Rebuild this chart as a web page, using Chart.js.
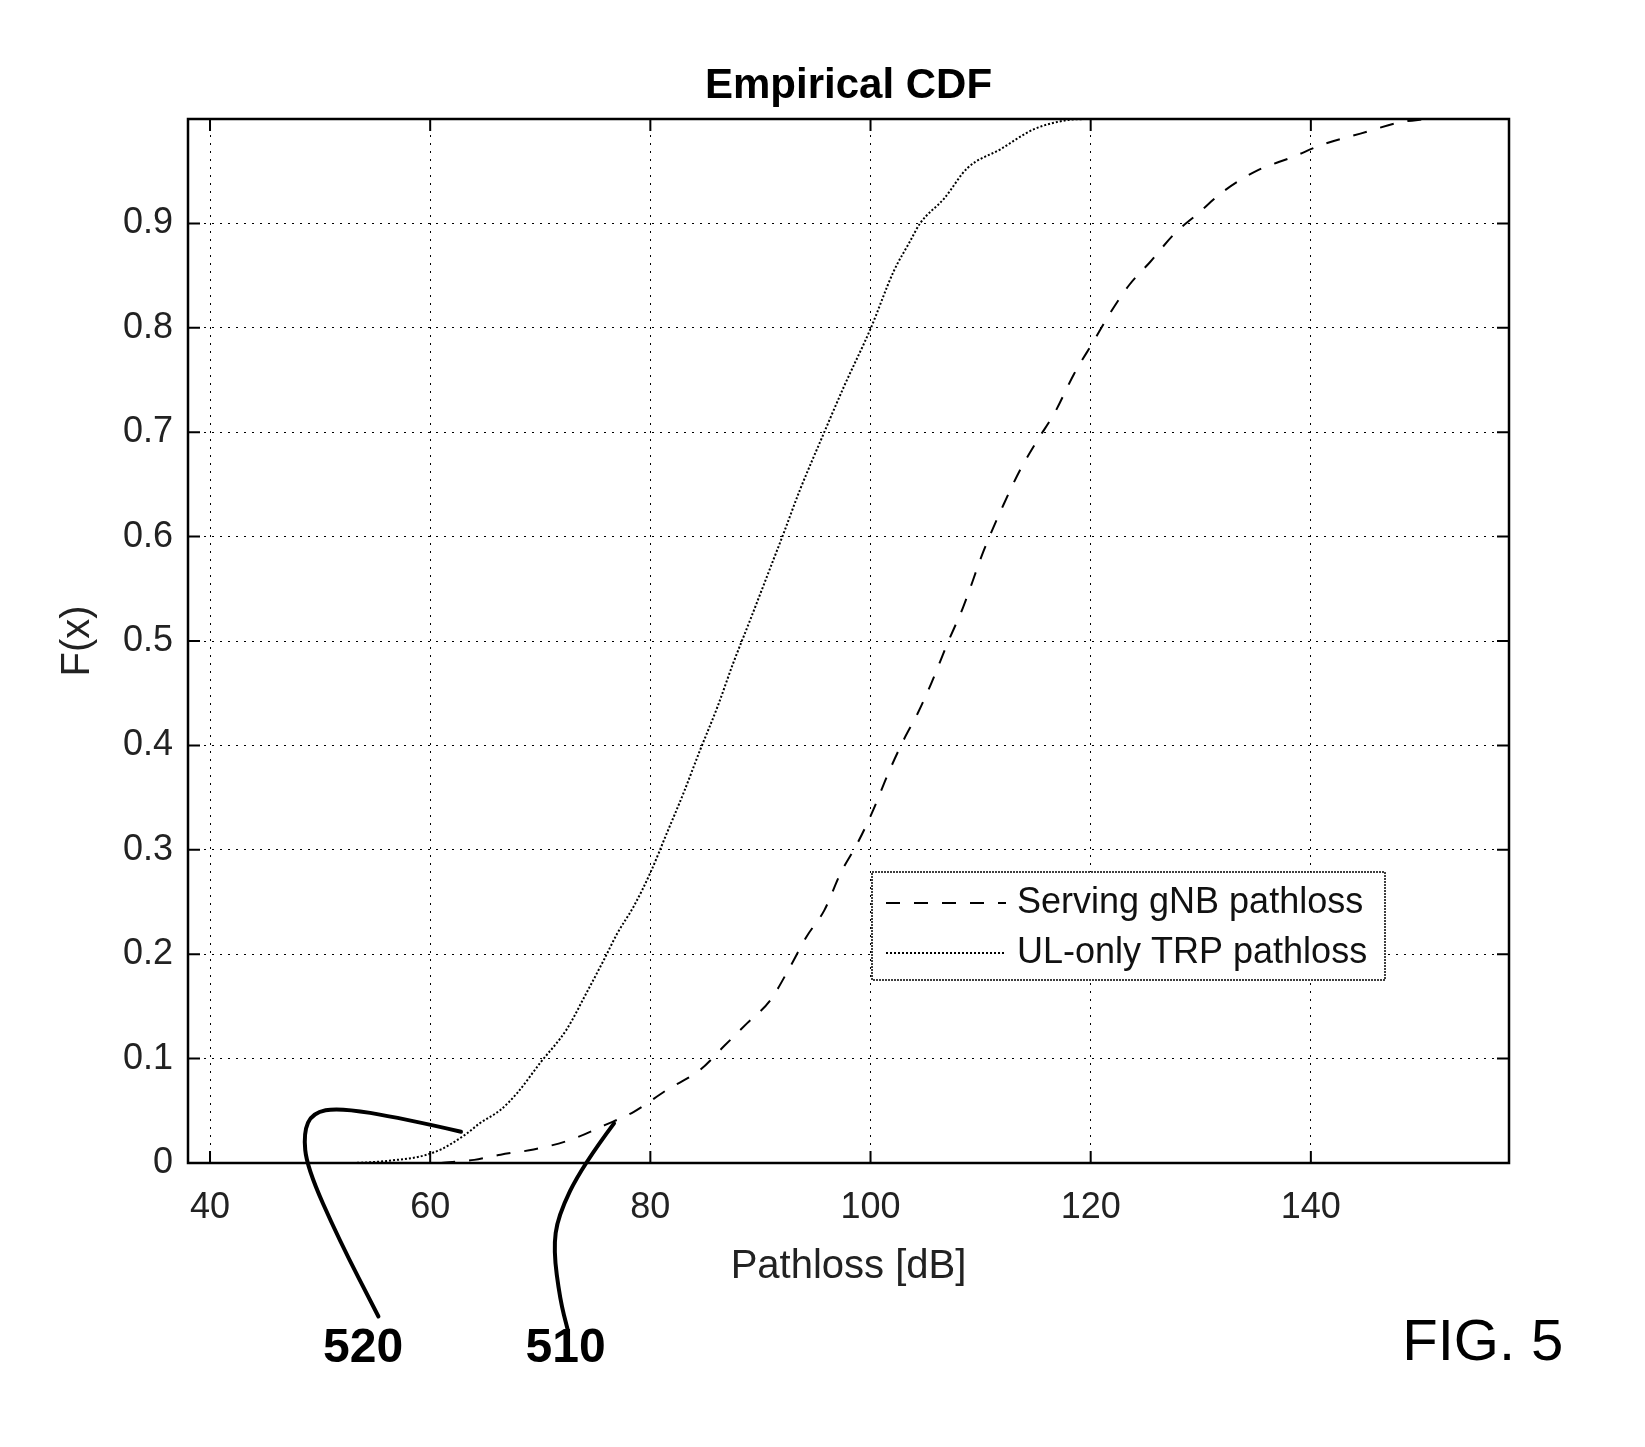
<!DOCTYPE html>
<html>
<head>
<meta charset="utf-8">
<script src="https://cdn.jsdelivr.net/npm/chart.js@4.4.1/dist/chart.umd.min.js"></script>
<style>
  body { margin: 0; background: #fff; }
  canvas { display: block; }
</style>
</head>
<body>
<canvas id="cdfChart" width="1645" height="1447"></canvas>
<script>
// UL-only TRP pathloss (curve 520)
let ulX = [53, 55, 57, 59, 60, 61, 62, 63.3, 64.5, 66.4, 67.9, 70.0, 72.4, 74.2, 75.8, 77.0, 78.5, 80.0,
           81.5, 83.0, 84.5, 86.1, 87.5, 89.1, 90.6, 92.1, 93.6, 95.8, 97.6, 100.0, 102.1, 103.6, 104.5,
           106.7, 108.8, 111.8, 114.8, 117.9, 119.5];
let ulY = [0, 0.001, 0.003, 0.006, 0.009, 0.013, 0.019, 0.028, 0.038, 0.051, 0.067, 0.096, 0.128, 0.163,
           0.195, 0.220, 0.246, 0.278, 0.316, 0.354, 0.395, 0.437, 0.478, 0.521, 0.562, 0.603, 0.645,
           0.700, 0.744, 0.799, 0.854, 0.883, 0.900, 0.924, 0.953, 0.971, 0.990, 0.999, 1.0];

// Serving gNB pathloss (curve 510)
let gnbX = [61, 64, 66.4, 69.4, 72.7, 75.8, 78.5, 81.5, 84.5, 86.7, 88.8, 90.9, 92.7, 94.2, 95.8, 97.3,
            98.8, 100.2, 101.6, 103.0, 104.3, 105.5, 107.0, 108.4, 110.3, 112.1, 113.6, 115.2, 116.7,
            118.5, 120.2, 121.7, 123.5, 125.4, 127.6, 129.7, 132.1, 135.2, 138.2, 141.2, 144.5, 148.2, 150.5];
let gnbY = [0, 0.003, 0.008, 0.013, 0.022, 0.036, 0.049, 0.070, 0.089, 0.112, 0.134, 0.156, 0.188, 0.217,
            0.242, 0.278, 0.306, 0.337, 0.373, 0.405, 0.431, 0.459, 0.498, 0.532, 0.587, 0.631, 0.664,
            0.693, 0.718, 0.756, 0.786, 0.813, 0.841, 0.863, 0.890, 0.909, 0.931, 0.951, 0.963, 0.976,
            0.986, 0.997, 1.0];

let xTicks = [40, 60, 80, 100, 120, 140];
let yTicks = [0, 0.1, 0.2, 0.3, 0.4, 0.5, 0.6, 0.7, 0.8, 0.9];
let seriesLabels = ['Serving gNB pathloss', 'UL-only TRP pathloss'];

const FONT = "'Liberation Sans', Arial, Helvetica, sans-serif";

function toPoints(xs, ys) {
    return xs.map((x, i) => ({ x: x, y: ys[i] }));
}

function smoothPath(ctx, pts) {
    ctx.beginPath();
    ctx.moveTo(pts[0][0], pts[0][1]);
    for (let i = 1; i < pts.length - 1; i++) {
        let mx = (pts[i][0] + pts[i + 1][0]) / 2;
        let my = (pts[i][1] + pts[i + 1][1]) / 2;
        ctx.quadraticCurveTo(pts[i][0], pts[i][1], mx, my);
    }
    let last = pts[pts.length - 1];
    ctx.lineTo(last[0], last[1]);
    ctx.stroke();
}

// frame, inward ticks, title, legend box and the patent call-outs
let figureDecor = {
    id: 'figureDecor',
    beforeDraw(chart) {
        let ctx = chart.ctx;
        ctx.save();
        ctx.fillStyle = '#fff';
        ctx.fillRect(0, 0, chart.width, chart.height);
        ctx.restore();
    },
    afterDatasetsDraw(chart) {
        let ctx = chart.ctx;
        let a = chart.chartArea;
        let xs = chart.scales.x, ys = chart.scales.y;
        ctx.save();

        // plot frame
        ctx.strokeStyle = '#000';
        ctx.lineWidth = 2.5;
        ctx.strokeRect(a.left, a.top, a.right - a.left, a.bottom - a.top);

        // inward tick marks on all four sides
        ctx.lineWidth = 2;
        ctx.beginPath();
        xTicks.forEach(v => {
            let px = xs.getPixelForValue(v);
            ctx.moveTo(px, a.bottom); ctx.lineTo(px, a.bottom - 12);
            ctx.moveTo(px, a.top); ctx.lineTo(px, a.top + 12);
        });
        yTicks.forEach(v => {
            let py = ys.getPixelForValue(v);
            ctx.moveTo(a.left, py); ctx.lineTo(a.left + 12, py);
            ctx.moveTo(a.right, py); ctx.lineTo(a.right - 12, py);
        });
        ctx.stroke();

        // legend inside the axes
        let bx = a.left + 684, by = a.top + 753, bw = 513, bh = 108;
        ctx.fillStyle = '#fff';
        ctx.fillRect(bx, by, bw, bh);
        ctx.setLineDash([2, 1]);
        ctx.lineWidth = 1.5;
        ctx.strokeRect(bx, by, bw, bh);
        chart.data.datasets.forEach((ds, i) => {
            let ry = by + 31 + i * 50;
            ctx.setLineDash(ds.borderDash);
            ctx.lineWidth = ds.borderWidth;
            ctx.strokeStyle = ds.borderColor;
            ctx.beginPath();
            ctx.moveTo(bx + 14, ry);
            ctx.lineTo(bx + 134, ry);
            ctx.stroke();
            ctx.setLineDash([]);
            ctx.fillStyle = '#111';
            ctx.font = '36px ' + FONT;
            ctx.textAlign = 'left';
            ctx.textBaseline = 'middle';
            ctx.fillText(ds.label, bx + 145, ry);
        });
        ctx.restore();
    },
    afterDraw(chart) {
        let ctx = chart.ctx;
        let a = chart.chartArea;
        let xs = chart.scales.x, ys = chart.scales.y;
        let P = (x, y) => [xs.getPixelForValue(x), ys.getPixelForValue(y)];
        ctx.save();

        // title
        ctx.fillStyle = '#000';
        ctx.font = 'bold 42px ' + FONT;
        ctx.textAlign = 'center';
        ctx.textBaseline = 'middle';
        ctx.fillText('Empirical CDF', (a.left + a.right) / 2, a.top - 33);

        // reference-numeral leader lines
        ctx.strokeStyle = '#000';
        ctx.lineWidth = 4;
        ctx.lineCap = 'round';
        smoothPath(ctx, [P(62.8, 0.030), P(57.4, 0.043), P(51.7, 0.053), P(49.3, 0.048), P(48.5, 0.029),
                         P(48.8, -0.004), P(51.7, -0.073), P(55.3, -0.147)]);
        smoothPath(ctx, [P(76.7, 0.038), P(73.8, -0.003), P(71.6, -0.051), P(71.2, -0.083),
                         P(71.8, -0.131), P(72.5, -0.160)]);

        ctx.font = 'bold 48px ' + FONT;
        ctx.textBaseline = 'alphabetic';
        let p520 = P(53.9, -0.191), p510 = P(72.3, -0.191);
        ctx.fillText('520', p520[0], p520[1]);
        ctx.fillText('510', p510[0], p510[1]);

        ctx.font = '58px ' + FONT;
        ctx.textAlign = 'left';
        let pFig = P(148.3, -0.189);
        ctx.fillText('FIG. 5', pFig[0], pFig[1]);
        ctx.restore();
    }
};

let cdfCanvas = document.getElementById('cdfChart').getContext('2d');

let cdfChart = new Chart(cdfCanvas, {
    type: 'line',
    data: {
        datasets: [
            {
                label: seriesLabels[0],
                data: toPoints(gnbX, gnbY),
                borderColor: '#000',
                borderWidth: 2,
                borderDash: [14, 14],
                pointRadius: 0,
                fill: false,
                cubicInterpolationMode: 'monotone'
            },
            {
                label: seriesLabels[1],
                data: toPoints(ulX, ulY),
                borderColor: '#000',
                borderWidth: 2,
                borderDash: [2, 2],
                pointRadius: 0,
                fill: false,
                cubicInterpolationMode: 'monotone'
            }
        ]
    },
    options: {
        responsive: false,
        animation: false,
        layout: { padding: { top: 119, right: 136, bottom: 0, left: 0 } },
        plugins: {
            legend: { display: false },
            title: { display: false },
            tooltip: { enabled: false }
        },
        scales: {
            x: {
                type: 'linear',
                min: 38,
                max: 158,
                afterBuildTicks: s => { s.ticks = xTicks.map(v => ({ value: v })); },
                afterFit: s => { s.height = 284; },
                ticks: {
                    color: '#222',
                    padding: 23,
                    maxRotation: 0,
                    font: { family: FONT, size: 36 }
                },
                grid: { color: '#000', lineWidth: 1, drawTicks: false },
                border: { display: false, dash: [2, 6] },
                title: {
                    display: true,
                    text: 'Pathloss [dB]',
                    color: '#222',
                    font: { family: FONT, size: 40 },
                    padding: { top: 0, bottom: 156 }
                }
            },
            y: {
                type: 'linear',
                min: 0,
                max: 1,
                afterBuildTicks: s => { s.ticks = yTicks.map(v => ({ value: v })); },
                afterFit: s => { s.width = 188; },
                ticks: {
                    color: '#222',
                    padding: 15,
                    font: { family: FONT, size: 36 },
                    callback: v => v === 0 ? '0' : v.toFixed(1)
                },
                grid: { color: '#000', lineWidth: 1, drawTicks: false },
                border: { display: false, dash: [2, 6] },
                title: {
                    display: true,
                    text: 'F(x)',
                    color: '#222',
                    font: { family: FONT, size: 40 },
                    padding: { top: 54, bottom: 0 }
                }
            }
        }
    },
    plugins: [figureDecor]
});
</script>
</body>
</html>
